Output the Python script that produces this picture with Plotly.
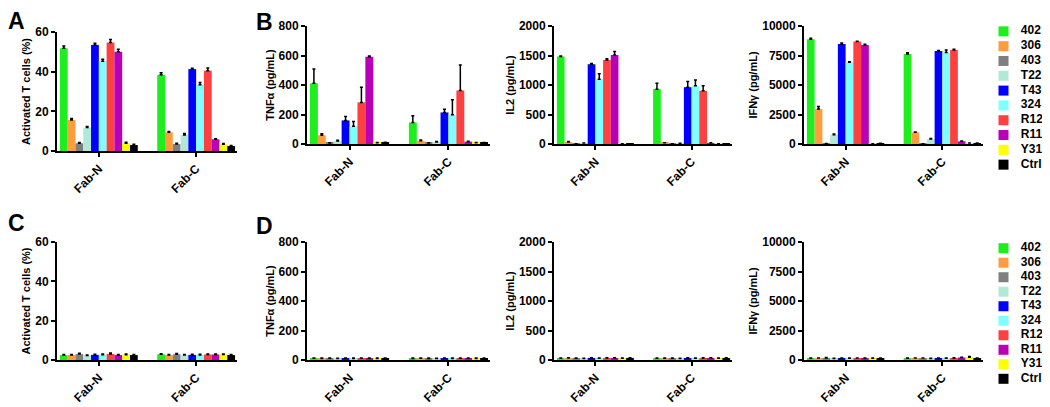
import plotly.graph_objects as go

W, H = 1050, 407
# the page body has an 8px margin, so pixel positions are shifted back by it
OX, OY = 8, 8

SAMPLES = ["402", "306", "403", "T22", "T43", "324", "R12", "R11", "Y31", "Ctrl"]
GROUPS = ["Fab-N", "Fab-C"]
COLORS = ["#1EEE1E", "#FF9C40", "#7F7F7F", "#B2E8D6", "#0000FF",
          "#80FFFF", "#FF4040", "#B800B8", "#FFFF00", "#000000"]

# top row (A, B): [Fab-N values, Fab-C values], one entry per sample
ACT_MEAN = [[51.8, 15.6, 3.9, 11.8, 53.5, 45.3, 54.7, 50.1, 3.9, 3.0],
            [38.4, 9.4, 3.5, 8.1, 41.3, 33.4, 40.5, 5.9, 3.4, 2.5]]
ACT_ERR = [[1.2, 0.8, 0.4, 0.5, 0.8, 1.0, 1.5, 1.2, 0.5, 0.4],
           [1.0, 0.4, 0.4, 0.7, 0.4, 1.2, 1.3, 0.3, 0.4, 0.3]]
TNF_MEAN = [[412, 59, 7, 20, 160, 120, 282, 592, 8, 10],
            [146, 22, 7, 14, 214, 198, 363, 16, 8, 9]]
TNF_ERR = [[97, 10, 2, 6, 27, 33, 103, 4, 2, 2],
           [45, 5, 2, 3, 22, 102, 173, 3, 2, 2]]
IL2_MEAN = [[1482, 34, 3, 15, 1352, 1099, 1425, 1510, 5, 5],
            [930, 20, 3, 10, 963, 986, 901, 17, 3, 3]]
IL2_ERR = [[10, 8, 1, 3, 12, 90, 22, 56, 1, 1],
           [100, 3, 1, 2, 96, 100, 85, 3, 1, 1]]
IFN_MEAN = [[8873, 2960, 30, 790, 8480, 6930, 8676, 8394, 20, 60],
            [7634, 986, 20, 423, 7887, 7746, 7972, 225, 85, 70]]
IFN_ERR = [[80, 220, 10, 60, 70, 50, 40, 60, 5, 10],
           [100, 40, 5, 50, 40, 230, 60, 20, 10, 10]]

# bottom row (C, D)
ACT0_MEAN = [[2.5, 2.5, 3.0, 2.3, 2.6, 2.7, 3.1, 2.5, 2.7, 2.5],
             [2.9, 2.5, 2.9, 2.5, 2.6, 2.6, 2.8, 2.8, 2.8, 2.5]]
ACT0_ERR = [[0.3, 0.3, 0.4, 0.3, 0.3, 0.3, 0.4, 0.3, 0.3, 0.3],
            [0.3, 0.3, 0.4, 0.3, 0.3, 0.3, 0.3, 0.3, 0.3, 0.3]]
TNF0_MEAN = [[12, 11, 12, 10, 12, 11, 12, 12, 11, 12],
             [11, 12, 11, 10, 12, 11, 12, 12, 11, 12]]
TNF0_ERR = [[2, 2, 2, 2, 2, 2, 2, 2, 2, 2],
            [2, 2, 2, 2, 2, 2, 2, 2, 2, 2]]
IL20_MEAN = [[30, 35, 30, 25, 35, 30, 35, 35, 30, 35],
             [30, 30, 30, 25, 35, 30, 35, 35, 30, 35]]
IL20_ERR = [[5, 5, 5, 5, 5, 5, 5, 5, 5, 5],
            [5, 5, 5, 5, 5, 5, 5, 5, 5, 5]]
IFN0_MEAN = [[150, 160, 180, 120, 150, 140, 160, 150, 150, 160],
             [150, 160, 160, 130, 150, 140, 170, 210, 230, 160]]
IFN0_ERR = [[20, 20, 30, 20, 20, 20, 20, 20, 20, 20],
            [20, 20, 20, 20, 20, 20, 20, 30, 60, 20]]

PANELS = [
    # (mean, err, y title, ticks, pixel box x0, x1, ytop, ybottom)
    (ACT_MEAN, ACT_ERR, "Activated T cells (%)", [0, 20, 40, 60], (57, 237, 32, 151)),
    (TNF_MEAN, TNF_ERR, "TNFα (pg/mL)", [0, 200, 400, 600, 800], (307, 490, 26, 144)),
    (IL2_MEAN, IL2_ERR, "IL2 (pg/mL)", [0, 500, 1000, 1500, 2000], (554, 732, 26, 144)),
    (IFN_MEAN, IFN_ERR, "IFNγ (pg/mL)", [0, 2500, 5000, 7500, 10000], (804, 983, 26, 144)),
    (ACT0_MEAN, ACT0_ERR, "Activated T cells (%)", [0, 20, 40, 60], (57, 237, 242, 360)),
    (TNF0_MEAN, TNF0_ERR, "TNFα (pg/mL)", [0, 200, 400, 600, 800], (307, 490, 242, 360)),
    (IL20_MEAN, IL20_ERR, "IL2 (pg/mL)", [0, 500, 1000, 1500, 2000], (554, 732, 242, 360)),
    (IFN0_MEAN, IFN0_ERR, "IFNγ (pg/mL)", [0, 2500, 5000, 7500, 10000], (804, 983, 242, 360)),
]

# legend blocks drawn on their own hidden axes: (ytop, ybottom) in px
LEGENDS = [(17, 179), (234, 393)]

FONT = "Liberation Sans, Arial, sans-serif"


def px_x(v):
    return (v - OX) / W


def px_y(v):
    return 1 - (v - OY) / H


fig = go.Figure()
layout = {}
for k, (mean, err, title, ticks, box) in enumerate(PANELS, start=1):
    sfx = "" if k == 1 else str(k)
    x0, x1, yt, yb = box
    for i, name in enumerate(SAMPLES):
        fig.add_trace(go.Bar(
            x=GROUPS,
            y=[mean[0][i], mean[1][i]],
            name=name,
            marker=dict(color=COLORS[i], line=dict(width=0)),
            error_y=dict(type="data", array=[err[0][i], err[1][i]],
                         arrayminus=[0, 0], symmetric=False,
                         color="black", thickness=1.5, width=1.5),
            xaxis="x" + sfx, yaxis="y" + sfx,
            showlegend=False,
            offsetgroup=str(i),
        ))
    layout["xaxis" + sfx] = dict(
        domain=[px_x(x0), px_x(x1)], anchor="y" + sfx, range=[-0.43, 1.42],
        showline=True, linecolor="black", linewidth=2, ticks="outside",
        ticklen=4, tickwidth=1.5, tickcolor="black", tickangle=-45,
        tickfont=dict(family=FONT, size=12, color="black", weight="bold"),
        showgrid=False, zeroline=False, fixedrange=True, automargin=False,
    )
    layout["yaxis" + sfx] = dict(
        domain=[px_y(yb), px_y(yt)], anchor="x" + sfx, range=[0, ticks[-1]],
        tickvals=ticks, tickformat="d", showline=True, linecolor="black",
        linewidth=2, ticks="outside", ticklen=4, tickwidth=1.5, tickcolor="black",
        tickfont=dict(family=FONT, size=12, color="black", weight="bold"),
        title=dict(text=title, standoff=2,
                   font=dict(family=FONT, size=11, color="black", weight="bold")),
        showgrid=False, zeroline=False, fixedrange=True, automargin=False,
    )

n = len(PANELS)
for j, (yt, yb) in enumerate(LEGENDS):
    sfx = str(n + 1 + j)
    fig.add_trace(go.Scatter(
        x=[0] * len(SAMPLES), y=SAMPLES, mode="markers",
        marker=dict(symbol="square", size=10, color=COLORS, line=dict(width=0)),
        xaxis="x" + sfx, yaxis="y" + sfx, showlegend=False, hoverinfo="skip",
        cliponaxis=False,
    ))
    fig.add_trace(go.Scatter(
        x=[1.05] * len(SAMPLES), y=SAMPLES, mode="text", text=SAMPLES,
        textposition="middle right",
        textfont=dict(family=FONT, size=12, color="black", weight="bold"),
        xaxis="x" + sfx, yaxis="y" + sfx, showlegend=False, hoverinfo="skip",
        cliponaxis=False,
    ))
    layout["xaxis" + sfx] = dict(domain=[px_x(995), px_x(1050)], anchor="y" + sfx,
                                 range=[-0.515, 2.818], visible=False, fixedrange=True)
    layout["yaxis" + sfx] = dict(domain=[px_y(yb), px_y(yt)], anchor="x" + sfx,
                                 type="category", categoryorder="array",
                                 categoryarray=SAMPLES, autorange="reversed",
                                 visible=False, fixedrange=True)

letters = [("A", 16, 21), ("B", 264, 22), ("C", 16, 223), ("D", 264, 226)]
annotations = [
    dict(text=t, x=px_x(px), y=px_y(py), xref="paper", yref="paper",
         xanchor="center", yanchor="middle", showarrow=False,
         font=dict(family=FONT, size=23, color="black", weight="bold"))
    for t, px, py in letters
]

fig.update_layout(
    width=W, height=H, autosize=False,
    margin=dict(l=0, r=0, t=0, b=0),
    paper_bgcolor="white", plot_bgcolor="white",
    barmode="group", bargap=0.2, bargroupgap=0,
    showlegend=False,
    annotations=annotations,
    **layout,
)

fig.write_html("out.html")
